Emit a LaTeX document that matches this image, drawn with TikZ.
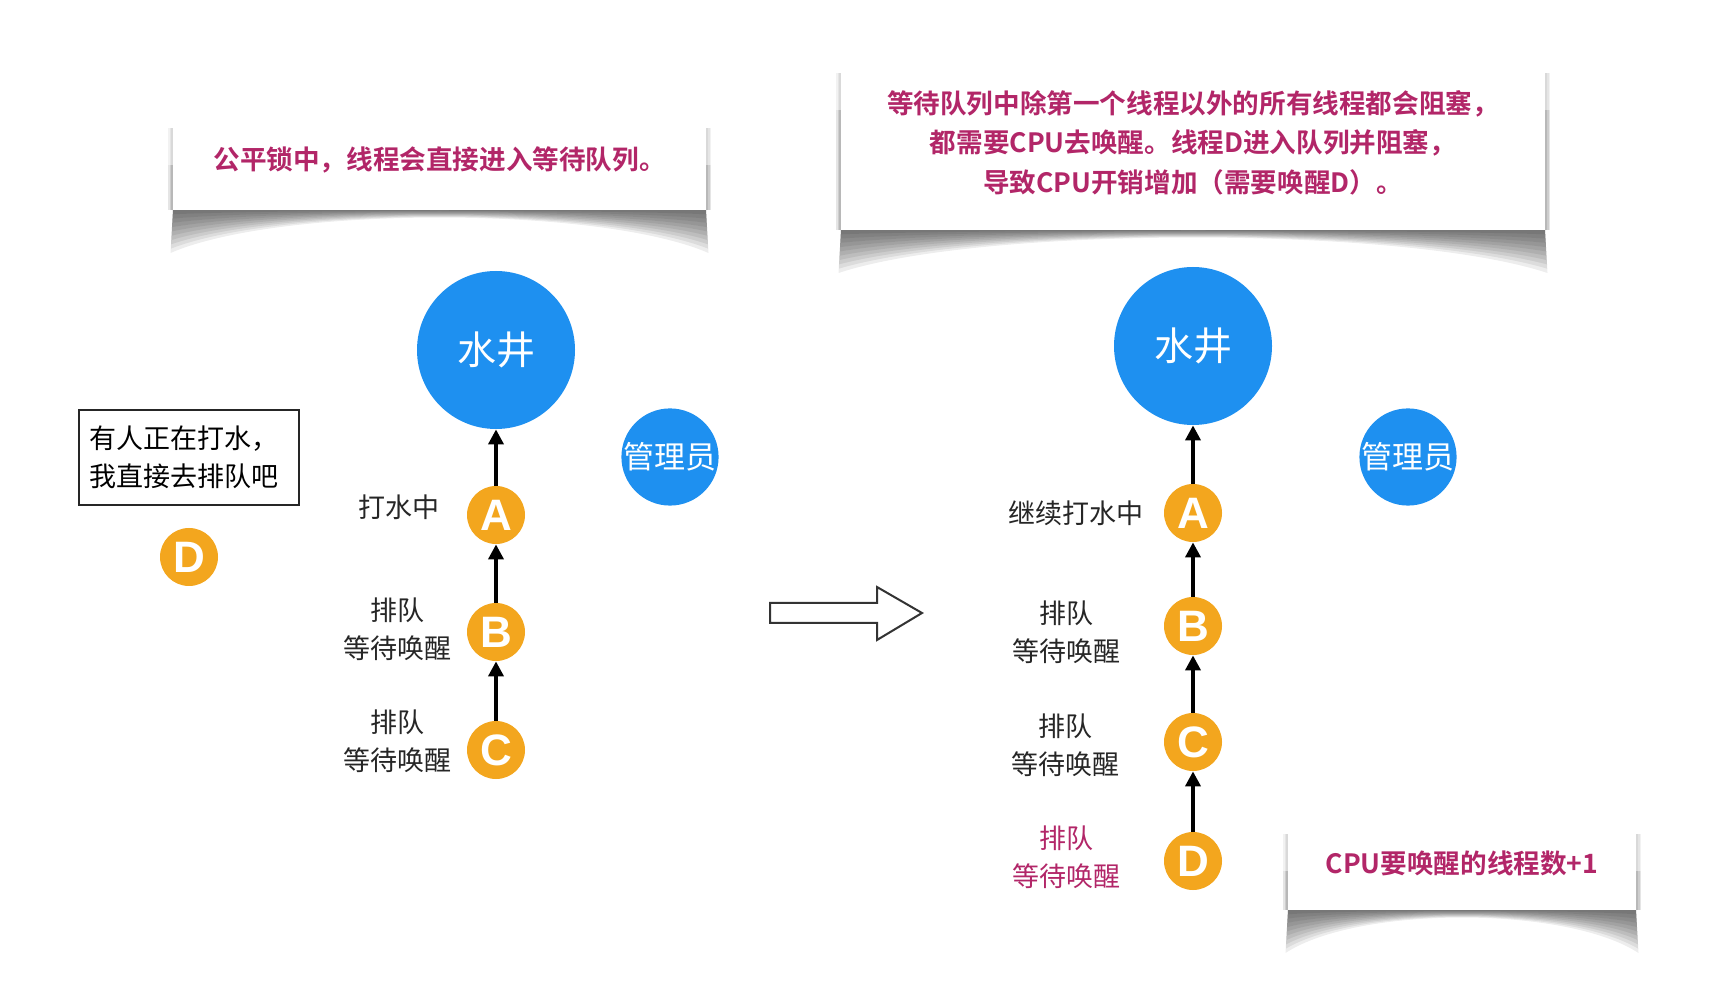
\documentclass[tikz,border=0pt]{standalone}
\usepackage{fontspec}
\setmainfont{Noto Sans CJK SC}
\newfontfamily\cjkb{Noto Sans CJK SC Bold}
\newfontfamily\letterfont{Liberation Sans}
\usetikzlibrary{arrows.meta,shadings}
\definecolor{wellblue}{RGB}{30,144,240}
\definecolor{qorange}{RGB}{243,166,30}
\definecolor{notemag}{RGB}{178,38,104}
\tikzset{
  well/.style={circle,fill=wellblue,inner sep=0pt,minimum size=79pt,text=white,font=\fontsize{19.5}{22}\selectfont},
  admin/.style={circle,fill=wellblue,inner sep=0pt,minimum size=47pt,text=white,font=\fontsize{15.5}{18}\selectfont},
  thread/.style={circle,fill=qorange,inner sep=0pt,minimum size=29pt,text=white,font=\letterfont\bfseries\fontsize{22}{24}\selectfont},
  lbl/.style={align=center,font=\fontsize{13.5}{19}\selectfont,text=black!85},
  note/.style={rectangle,fill=white,inner sep=0pt,align=center,text=notemag,font=\cjkb\fontsize{13.3}{19.7}\selectfont},
  arr/.style={line width=1.8pt,-{Triangle[width=7.5pt,length=7.5pt]}},
  thinkbox/.style={draw=black!85,line width=0.8pt,fill=white,minimum width=110pt,minimum height=47.5pt,align=left,font=\fontsize{13.5}{19}\selectfont,inner sep=0pt,text width=100pt},
  shade layer/.style={fill=black,fill opacity=0.07}
}
% curl shadow: #1 left x, #2 right x, #3 bottom y of note, #4 top y of note
\newcommand{\curlshadow}[4]{%
  \foreach \k in {1,...,10}{%
    \pgfmathsetmacro{\dd}{4.3*\k}%
    \fill[shade layer] (#1,#3) -- (#2,#3) -- ({#2+0.25*\k},{#3+\dd}) .. controls ({#2-0.2*(#2-#1)},{#3-0.1*\dd}) and ({#1+0.2*(#2-#1)},{#3-0.1*\dd}) .. ({#1-0.25*\k},{#3+\dd}) -- cycle;
  }%
  \foreach \k in {1,2,3}{%
    \fill[shade layer,fill opacity=0.05] ({#1-1.6*\k},{#4+18}) rectangle (#1,#3);
    \fill[shade layer,fill opacity=0.05] (#2,{#4+18}) rectangle ({#2+1.8*\k},#3);
    \fill[shade layer,fill opacity=0.05] ({#1-1.6*\k},{#4+55}) rectangle (#1,#3);
    \fill[shade layer,fill opacity=0.05] (#2,{#4+55}) rectangle ({#2+1.8*\k},#3);
  }%
}
\begin{document}
\begin{tikzpicture}[x=0.5pt,y=-0.5pt]
\useasboundingbox (0,0) rectangle (1730,988);
\fill[white] (0,0) rectangle (1730,988);
% ---- paper-curl shadows
\curlshadow{173}{706}{210}{110}
\curlshadow{841}{1545}{230}{55}
\curlshadow{1288}{1636}{910}{816}
% ---- notes
\node[note,minimum width=266.5pt,minimum height=50pt] (n1) at (439.5,160) {公平锁中，线程会直接进入等待队列。};
\node[note,minimum width=352pt,minimum height=87.5pt] (n2) at (1193,142.5) {等待队列中除第一个线程以外的所有线程都会阻塞，\\都需要CPU去唤醒。线程D进入队列并阻塞，\\导致CPU开销增加（需要唤醒D）。};
\node[note,minimum width=174pt,minimum height=47pt] (n3) at (1462,863) {CPU要唤醒的线程数+1};
% ---- left scene
\node[well] (W1) at (496,350) {水井};
\node[admin] (M1) at (670,457) {管理员};
\node[thread] (A1) at (496,515) {A};
\node[thread] (B1) at (496,632) {B};
\node[thread] (C1) at (496,750) {C};
\node[thread] (D1) at (189,557) {D};
\node[lbl] (la1) at (399,507) {打水中};
\node[lbl] (lb1) at (397,629) {排队\\等待唤醒};
\node[lbl] (lc1) at (397,741) {排队\\等待唤醒};
\node[thinkbox] (think) at (189,457.5) {有人正在打水，\\我直接去排队吧};
\draw[arr] (A1) -- (W1);
\draw[arr] (B1) -- (A1);
\draw[arr] (C1) -- (B1);
% ---- hollow arrow
\draw[line width=1pt,black!80,fill=white,line join=miter] (770,603) -- (877,603) -- (877,587) -- (922,613) -- (877,640) -- (877,623) -- (770,623) -- cycle;
% ---- right scene
\node[well] (W2) at (1193,346) {水井};
\node[admin] (M2) at (1408,457) {管理员};
\node[thread] (A2) at (1193,513) {A};
\node[thread] (B2) at (1193,626) {B};
\node[thread] (C2) at (1193,742) {C};
\node[thread] (D2) at (1193,861) {D};
\node[lbl] (la2) at (1076,513) {继续打水中};
\node[lbl] (lb2) at (1066,632) {排队\\等待唤醒};
\node[lbl] (lc2) at (1065,745) {排队\\等待唤醒};
\node[lbl,text=notemag] (ld2) at (1066,857) {排队\\等待唤醒};
\draw[arr] (A2) -- (W2);
\draw[arr] (B2) -- (A2);
\draw[arr] (C2) -- (B2);
\draw[arr] (D2) -- (C2);
\end{tikzpicture}
\end{document}
